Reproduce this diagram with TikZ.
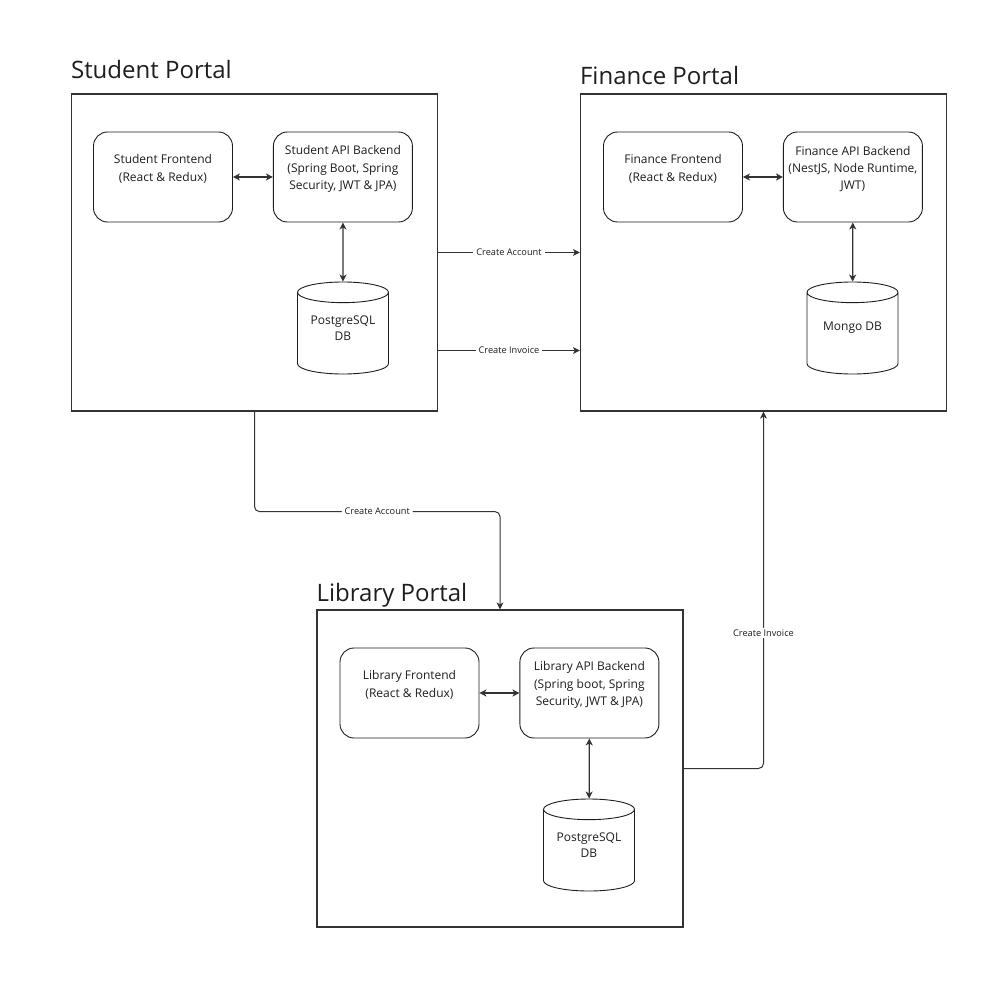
\documentclass[tikz,border=0pt]{standalone}
\usepackage{fontspec}
\setmainfont{Open Sans}
\usetikzlibrary{shapes.geometric, arrows.meta, positioning}

\definecolor{linegray}{HTML}{333333}
\definecolor{inkgray}{HTML}{1E1E1E}

\tikzset{
  portal/.style={draw=linegray, line width=1.2pt, minimum width=366pt,
                 minimum height=317pt, inner sep=0pt},
  portaltitle/.style={anchor=base west, inner sep=0pt, text=inkgray,
                      font=\fontsize{24}{29}\selectfont},
  comp/.style={draw=inkgray, line width=0.9pt, rounded corners=14pt,
               minimum width=139pt, minimum height=90pt, inner sep=0pt},
  comptext/.style={align=center, yshift=8pt, inner sep=0pt, text=inkgray,
                   font=\fontsize{12}{17.3}\selectfont},
  dbase/.style={cylinder, shape border rotate=90, aspect=0.32, draw=inkgray,
                line width=0.9pt, minimum width=91pt, minimum height=92pt,
                inner sep=0pt, anchor=shape center,
                font=\fontsize{12}{16}\selectfont},
  dbtext/.style={align=center, inner sep=0pt, text=inkgray,
                 font=\fontsize{12}{16}\selectfont},
  tip/.tip={Stealth[length=7pt, width=7pt, inset=2pt]},
  link/.style={draw=linegray, line width=1pt, -tip},
  duplex/.style={draw=linegray, line width=1.2pt, tip-tip},
  linklabel/.style={fill=white, inner xsep=3pt, inner ysep=1.5pt, text=inkgray,
                    font=\fontsize{9.2}{11}\selectfont},
}

\begin{document}
\begin{tikzpicture}[x=1pt, y=-1pt]
  \useasboundingbox[fill=white] (0,0) rectangle (999,1000);

  % portals
  \node[portal] (sp) at (254.5,252.5) {};
  \node[portal] (fp) at (763.5,252.5) {};
  \node[portal] (lp) at (500,768.5) {};
  \node[portaltitle] (sptitle) at ([yshift=15pt]sp.north west) {Student Portal};
  \node[portaltitle] (fptitle) at ([yshift=9pt]fp.north west) {Finance Portal};
  \node[portaltitle] (lptitle) at ([yshift=8pt]lp.north west) {Library Portal};

  % student portal
  \node[comp, label={[comptext]center:Student Frontend\\(React \& Redux)}]
       (sfe) at (163,177) {};
  \node[comp, right=40pt of sfe,
        label={[comptext]center:Student API Backend\\(Spring Boot, Spring\\Security, JWT \& JPA)}]
       (sapi) {};
  \node[dbase] (sdb) at (343,328) {\phantom{PostgreSQL}};
  \node[dbtext] (sdbtext) at (sdb.shape center) {PostgreSQL\\DB};
  \draw[duplex] (sfe) -- (sapi);
  \draw[duplex] (sapi) -- (sdb);

  % finance portal
  \node[comp, label={[comptext]center:Finance Frontend\\(React \& Redux)}]
       (ffe) at (673,177) {};
  \node[comp, right=40pt of ffe,
        label={[comptext]center:Finance API Backend\\(NestJS, Node Runtime,\\JWT)}]
       (fapi) {};
  \node[dbase] (fdb) at (852.5,328) {\phantom{PostgreSQL}};
  \node[dbtext] (fdbtext) at (fdb.shape center) {Mongo DB};
  \draw[duplex] (ffe) -- (fapi);
  \draw[duplex] (fapi) -- (fdb);

  % library portal
  \node[comp, label={[comptext]center:Library Frontend\\(React \& Redux)}]
       (lfe) at (409.5,693) {};
  \node[comp, right=40pt of lfe,
        label={[comptext]center:Library API Backend\\(Spring boot, Spring\\Security, JWT \& JPA)}]
       (lapi) {};
  \node[dbase] (ldb) at (589,845) {\phantom{PostgreSQL}};
  \node[dbtext] (ldbtext) at (ldb.shape center) {PostgreSQL\\DB};
  \draw[duplex] (lfe) -- (lapi);
  \draw[duplex] (lapi) -- (ldb);

  % links between portals
  \draw[link] (sp.east) -- node[linklabel] {Create Account} (sp.east -| fp.west);
  \draw[link] ([yshift=-98pt]sp.east) -- node[linklabel] {Create Invoice}
              ([yshift=-98pt]sp.east -| fp.west);
  \draw[link, rounded corners=5pt] (sp.south) -- ++(0,100)
              -| node[linklabel, pos=0.25] {Create Account} (lp.north);
  \draw[link, rounded corners=5pt] (lp.east)
              -| node[linklabel, pos=0.69] {Create Invoice} (fp.south);
\end{tikzpicture}
\end{document}
